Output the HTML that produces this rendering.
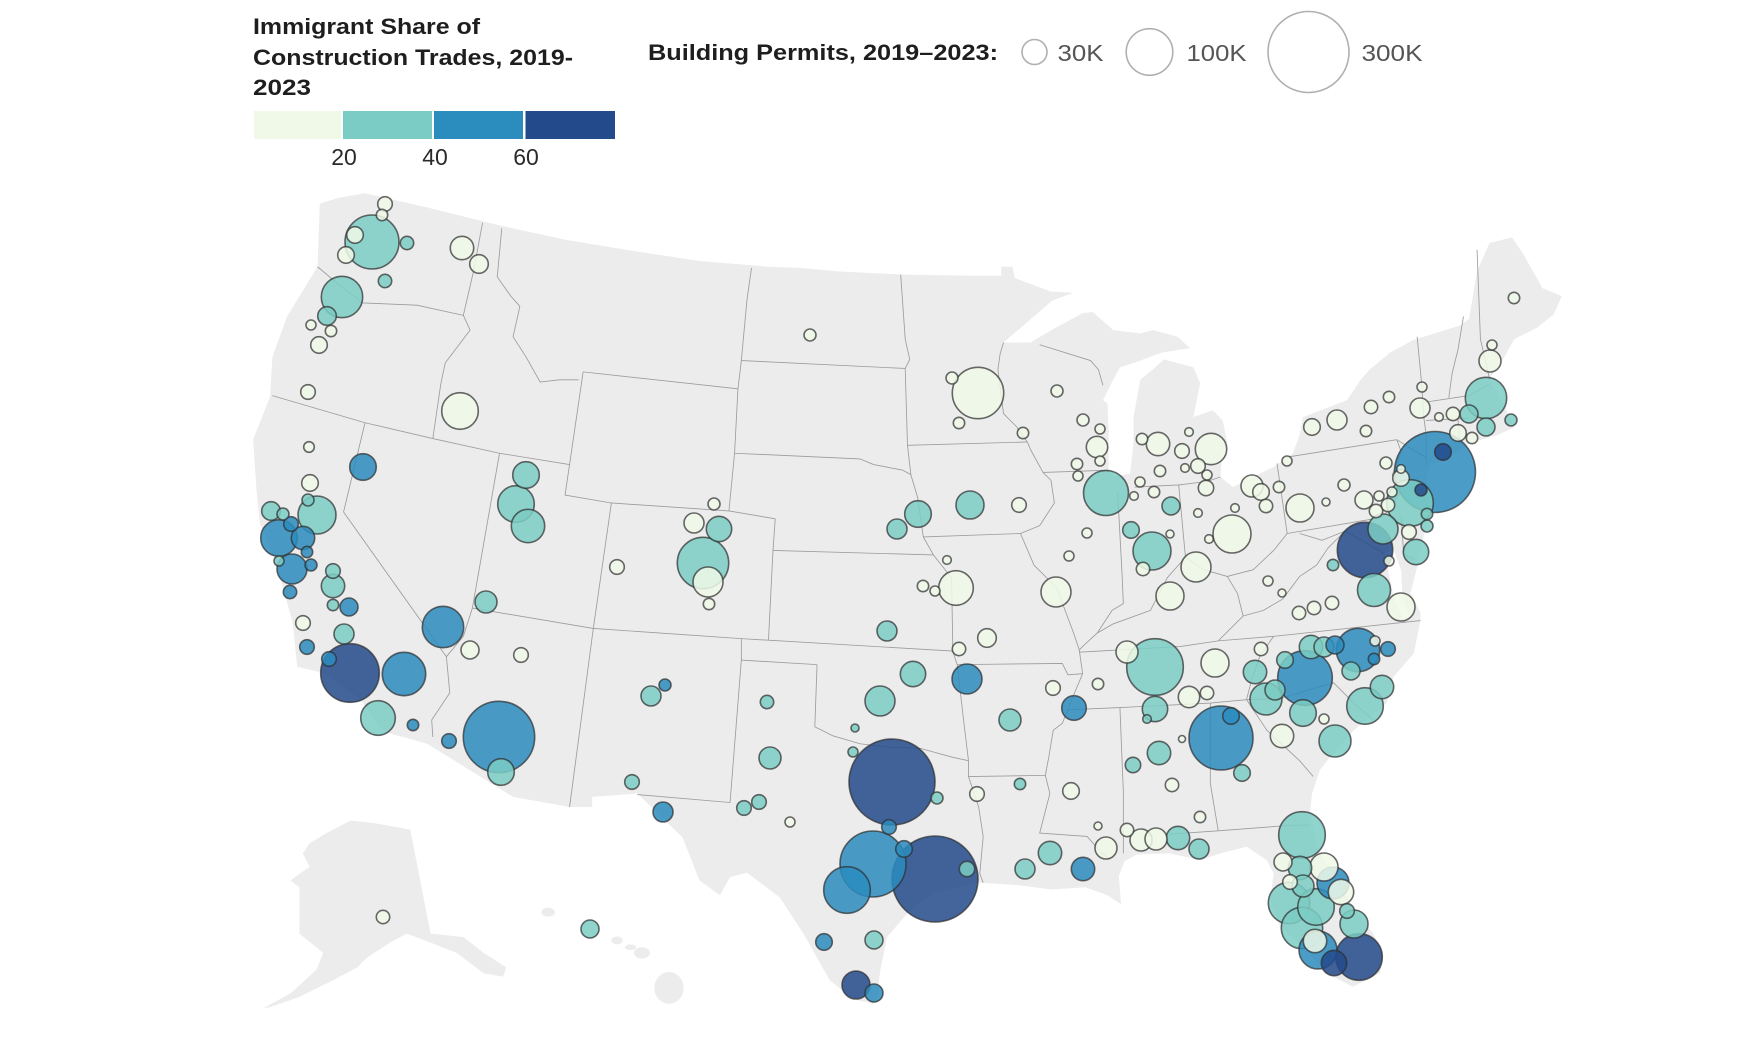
<!DOCTYPE html>
<html>
<head>
<meta charset="utf-8">
<style>
html,body{margin:0;padding:0;background:#ffffff;}
svg{display:block;}
.ttl{font-family:"Liberation Sans",Arial,sans-serif;font-weight:bold;fill:#1e1e1e;}
.lbl{font-family:"Liberation Sans",Arial,sans-serif;fill:#2a2a2a;}
.lbl2{font-family:"Liberation Sans",Arial,sans-serif;fill:#555555;}
.b{fill:none;stroke:#9c9c9c;stroke-width:0.75;stroke-linejoin:round;}
.pts circle{fill-opacity:0.85;stroke:#2f2f2f;stroke-opacity:0.72;stroke-width:1.6;}
.L{fill:#f0f9e8;}
.T{fill:#7bccc4;}
.B{fill:#2b8cbe;}
.D{fill:#234a8b;}
</style>
</head>
<body>
<svg width="1763" height="1058" viewBox="0 0 1763 1058" xmlns="http://www.w3.org/2000/svg">
<rect x="0" y="0" width="1763" height="1058" fill="#ffffff"/>

<g transform="scale(1.1301 1.1303)">
<polygon fill="#ececec" points="283,180 300,175 323,171 380,184 440,199 500,212 560,222 620,231 680,236 708,237 740,240 800,243 860,244 886,244 886,236 896,236 898,246 930,258 950,259 931,266 888,303 912,303 927,294 958,277 967,276 985,292 1009,295 1020,292 1042,298 1053,308 1028,312 1009,319 991,325 985,336 976,354 980,357 981,381 981,416 985,422 1000,419 1003,392 1003,369 1009,336 1020,327 1030,318 1056,325 1062,339 1056,369 1073,363 1082,372 1086,392 1081,404 1080,422 1091,431 1109,422 1127,413 1144,401 1150,385 1153,369 1192,354 1204,336 1212,327 1230,312 1250,301 1292,288 1300,282 1307,240 1318,215 1338,210 1348,225 1365,255 1382,262 1375,278 1360,290 1340,300 1330,318 1318,335 1333,363 1340,378 1325,385 1300,392 1290,400 1265,412 1262,425 1265,451 1257,487 1254,502 1248,525 1257,542 1257,549 1251,578 1233,599 1227,622 1198,646 1180,666 1168,681 1161,702 1159,720 1165,749 1180,773 1197,802 1215,826 1224,843 1221,861 1197,873 1174,861 1157,841 1133,820 1124,796 1127,773 1121,761 1103,749 1080,755 1062,761 1035,755 1006,756 995,762 990,775 992,800 980,792 960,785 930,787 900,783 867,781 826,790 803,808 785,829 779,858 776,882 773,888 755,884 734,867 711,826 690,794 661,772 646,776 637,792 619,779 604,741 564,702 524,705 524,714 504,714 454,705 378,658 342,648 336,643 319,619 285,595 263,590 259,551 251,522 242,493 230,463 227,434 224,389 239,351 241,316 254,280 281,236"/>
<polygon fill="#ffffff" points="1226,490 1233,486 1240,505 1241,530 1248,546 1242,548 1234,532 1229,508"/>
<polygon fill="#ececec" points="310,726 330,728 363,734 381,826 410,829 428,843 448,856 445,864 428,861 404,843 381,834 360,826 345,834 325,847 316,856 295,867 265,882 239,891 233,892 257,879 280,858 286,843 265,826 265,808 265,785 257,779 265,773 274,767 268,755 274,746 289,737"/>
<ellipse cx="485" cy="807" rx="6" ry="4" fill="#ececec"/>
<ellipse cx="546" cy="832" rx="5" ry="3.5" fill="#ececec"/>
<ellipse cx="558" cy="838" rx="5" ry="2.5" fill="#ececec"/>
<ellipse cx="568" cy="843" rx="7" ry="5" fill="#ececec"/>
<ellipse cx="592" cy="874" rx="13" ry="14" fill="#ececec"/>

<polyline class="b" points="281,236 300,252 321,268 369,270 410,279"/>
<polyline class="b" points="427,197 419,240 410,279"/>
<polyline class="b" points="410,279 416,292 394,321 390,340 383,388"/>
<polyline class="b" points="241,350 323,374 383,388"/>
<polyline class="b" points="444,202 440,245 452,262 460,271 454,298 465,315 478,338 495,336 512,336"/>
<polyline class="b" points="516,329 504,411"/>
<polyline class="b" points="383,388 442,401 504,411"/>
<polyline class="b" points="323,374 304,453 395,581 398,613 382,637 383,652"/>
<polyline class="b" points="442,401 418,538 410,563 395,581"/>
<polyline class="b" points="418,538 525,556"/>
<polyline class="b" points="504,411 500,438 541,445 525,556"/>
<polyline class="b" points="525,556 504,714"/>
<polyline class="b" points="516,329 653,344"/>
<polyline class="b" points="665,237 661,265 656,319 653,344"/>
<polyline class="b" points="653,344 650,401 645,452"/>
<polyline class="b" points="541,445 645,452 686,459"/>
<polyline class="b" points="686,459 684,487 680,566"/>
<polyline class="b" points="525,556 656,565 843,576"/>
<polyline class="b" points="656,565 656,584 646,710 564,703"/>
<polyline class="b" points="656,584 723,588"/>
<polyline class="b" points="723,588 721,643 737,651 761,658 785,661 814,662 843,670 857,673"/>
<polyline class="b" points="656,319 801,326"/>
<polyline class="b" points="650,401 761,406 773,411 799,416 806,420"/>
<polyline class="b" points="797,243 801,300 805,318 801,326 803,394"/>
<polyline class="b" points="803,394 909,391"/>
<polyline class="b" points="803,394 806,420 812,440 817,475 826,491"/>
<polyline class="b" points="684,487 826,491"/>
<polyline class="b" points="817,475 903,472"/>
<polyline class="b" points="826,491 833,500 842,511 843,566 843,576"/>
<polyline class="b" points="847,588 940,587 945,597 958,596"/>
<polyline class="b" points="843,576 847,588 853,640 857,673 857,687 925,686"/>
<polyline class="b" points="857,687 866,714 870,740 867,773 870,781"/>
<polyline class="b" points="958,596 950,615 940,640 932,646 928,670 925,686 929,702 920,737 962,740 975,755 982,760"/>
<polyline class="b" points="909,391 912,398 923,418 930,425 933,445 920,465 903,472 915,500 935,520 950,560 955,575 958,596"/>
<polyline class="b" points="888,303 885,313 883,327 888,366 900,378 909,391"/>
<polyline class="b" points="920,305 965,319 972,327 976,341"/>
<polyline class="b" points="923,418 981,416"/>
<polyline class="b" points="989,436 993,510 994,534 984,540 971,560 960,570 955,575"/>
<polyline class="b" points="1004,431 1043,429 1068,426 1080,422"/>
<polyline class="b" points="1043,429 1049,493"/>
<polyline class="b" points="971,560 985,552 1018,540 1033,511 1049,493 1065,504 1086,510 1109,504 1127,487 1139,472"/>
<polyline class="b" points="1130,410 1139,472"/>
<polyline class="b" points="1135,405 1236,389"/>
<polyline class="b" points="1139,472 1210,460 1224,457"/>
<polyline class="b" points="1236,389 1240,400 1232,420 1240,435 1224,457"/>
<polyline class="b" points="1150,472 1170,478 1190,470 1205,478 1225,490"/>
<polyline class="b" points="1190,470 1175,485 1165,500 1150,510 1135,530 1118,540 1100,545 1085,560 1078,567"/>
<polyline class="b" points="1086,510 1095,525 1100,545"/>
<polyline class="b" points="955,577 1044,572 1078,567 1127,563 1257,549"/>
<polyline class="b" points="1127,563 1115,580 1108,600 1103,619"/>
<polyline class="b" points="945,628 991,626 1071,622 1103,619"/>
<polyline class="b" points="991,626 994,700 994,755"/>
<polyline class="b" points="1071,622 1071,693 1078,735"/>
<polyline class="b" points="1035,738 1078,735 1144,730 1159,730"/>
<polyline class="b" points="1103,619 1121,646 1150,673 1162,687"/>
<polyline class="b" points="1103,619 1133,618 1180,604 1198,622 1215,637"/>
<polyline class="b" points="1254,298 1258,340 1260,370 1262,385 1262,412"/>
<polyline class="b" points="1295,280 1290,310 1285,330 1282,352"/>
<polyline class="b" points="1307,221 1310,300 1318,335"/>
<polyline class="b" points="1260,356 1300,350 1318,340"/>
<polyline class="b" points="1262,372 1300,370"/>
<polyline class="b" points="1290,370 1292,393"/>
<polyline class="b" points="1236,389 1262,405"/>
<polyline class="b" points="1240,457 1242,490 1252,495"/>
</g>

<text class="ttl" x="253" y="34" font-size="22" textLength="227" lengthAdjust="spacingAndGlyphs">Immigrant Share of</text>
<text class="ttl" x="253" y="65" font-size="22" textLength="320" lengthAdjust="spacingAndGlyphs">Construction Trades, 2019-</text>
<text class="ttl" x="253" y="95" font-size="22" textLength="58" lengthAdjust="spacingAndGlyphs">2023</text>
<rect x="254" y="111" width="87" height="28" fill="#f0f9e8"/>
<rect x="343" y="111" width="89" height="28" fill="#7bccc4"/>
<rect x="434" y="111" width="89" height="28" fill="#2b8cbe"/>
<rect x="525.5" y="111" width="89.5" height="28" fill="#234a8b"/>
<text class="lbl" x="344" y="165" font-size="23" text-anchor="middle">20</text>
<text class="lbl" x="435" y="165" font-size="23" text-anchor="middle">40</text>
<text class="lbl" x="526" y="165" font-size="23" text-anchor="middle">60</text>

<text class="ttl" x="648" y="60" font-size="22" textLength="350" lengthAdjust="spacingAndGlyphs">Building Permits, 2019–2023:</text>
<circle cx="1034.5" cy="52" r="12.5" fill="none" stroke="#b0b0b0" stroke-width="1.6"/>
<text class="lbl2" x="1057.5" y="61" font-size="23" textLength="46" lengthAdjust="spacingAndGlyphs">30K</text>
<circle cx="1149.5" cy="52" r="23.3" fill="none" stroke="#b0b0b0" stroke-width="1.6"/>
<text class="lbl2" x="1186.5" y="61" font-size="23" textLength="60" lengthAdjust="spacingAndGlyphs">100K</text>
<circle cx="1308.5" cy="52" r="40.5" fill="none" stroke="#b0b0b0" stroke-width="1.6"/>
<text class="lbl2" x="1361.5" y="61" font-size="23" textLength="61" lengthAdjust="spacingAndGlyphs">300K</text>

<g class="pts">
<circle class="D" cx="892" cy="782" r="43"/>
<circle class="D" cx="935" cy="879" r="43"/>
<circle class="B" cx="1435" cy="472" r="40.5"/>
<circle class="B" cx="499" cy="737" r="35.7"/>
<circle class="B" cx="873" cy="864" r="33"/>
<circle class="B" cx="1221" cy="738" r="32"/>
<circle class="D" cx="350" cy="673" r="29.3"/>
<circle class="T" cx="1155" cy="667" r="28.3"/>
<circle class="D" cx="1365" cy="550" r="27.7"/>
<circle class="B" cx="1305" cy="678" r="27.3"/>
<circle class="T" cx="372" cy="242" r="27"/>
<circle class="L" cx="978" cy="393" r="25.7"/>
<circle class="T" cx="703" cy="563" r="25.7"/>
<circle class="B" cx="847" cy="890" r="23.3"/>
<circle class="T" cx="1410" cy="503" r="23.3"/>
<circle class="T" cx="1302" cy="835" r="23.3"/>
<circle class="D" cx="1359" cy="957" r="23.3"/>
<circle class="T" cx="1106" cy="493" r="22.5"/>
<circle class="B" cx="404" cy="674" r="21.7"/>
<circle class="B" cx="1358" cy="650" r="21.7"/>
<circle class="T" cx="342" cy="297" r="20.7"/>
<circle class="B" cx="443" cy="627" r="20.7"/>
<circle class="T" cx="1486" cy="398" r="20.7"/>
<circle class="T" cx="1289" cy="903" r="20.7"/>
<circle class="T" cx="1302" cy="928" r="20.7"/>
<circle class="T" cx="317" cy="515" r="19"/>
<circle class="T" cx="1152" cy="551" r="19"/>
<circle class="L" cx="1232" cy="534" r="19"/>
<circle class="B" cx="1318" cy="950" r="19"/>
<circle class="L" cx="460" cy="411" r="18.3"/>
<circle class="B" cx="279" cy="538" r="18.3"/>
<circle class="T" cx="516" cy="504" r="18.3"/>
<circle class="T" cx="1365" cy="706" r="18.3"/>
<circle class="T" cx="1316" cy="907" r="18.3"/>
<circle class="T" cx="378" cy="718" r="17.3"/>
<circle class="L" cx="956" cy="588" r="17.3"/>
<circle class="T" cx="528" cy="526" r="16.7"/>
<circle class="T" cx="1374" cy="590" r="16.5"/>
<circle class="T" cx="1266" cy="699" r="16"/>
<circle class="T" cx="1335" cy="741" r="16"/>
<circle class="B" cx="1333" cy="883" r="16"/>
<circle class="L" cx="1211" cy="449" r="15.7"/>
<circle class="L" cx="1056" cy="592" r="15"/>
<circle class="B" cx="292" cy="569" r="15"/>
<circle class="L" cx="708" cy="582" r="15"/>
<circle class="B" cx="967" cy="679" r="15"/>
<circle class="T" cx="880" cy="701" r="15"/>
<circle class="L" cx="1196" cy="567" r="15"/>
<circle class="T" cx="1383" cy="529" r="15"/>
<circle class="T" cx="970" cy="505" r="14"/>
<circle class="L" cx="1170" cy="596" r="14"/>
<circle class="L" cx="1300" cy="508" r="14"/>
<circle class="L" cx="1215" cy="663" r="14"/>
<circle class="L" cx="1324" cy="867" r="14"/>
<circle class="T" cx="1354" cy="924" r="14"/>
<circle class="D" cx="856" cy="985" r="14"/>
<circle class="L" cx="1401" cy="607" r="14"/>
<circle class="T" cx="1303" cy="713" r="13.3"/>
<circle class="B" cx="363" cy="467" r="13.3"/>
<circle class="T" cx="526" cy="475" r="13.3"/>
<circle class="T" cx="501" cy="772" r="13.3"/>
<circle class="T" cx="918" cy="514" r="13.3"/>
<circle class="T" cx="913" cy="674" r="12.7"/>
<circle class="T" cx="1155" cy="709" r="12.7"/>
<circle class="L" cx="1341" cy="892" r="12.7"/>
<circle class="T" cx="719" cy="529" r="12.7"/>
<circle class="D" cx="1334" cy="963" r="12.7"/>
<circle class="T" cx="1416" cy="552" r="12.7"/>
<circle class="B" cx="1074" cy="708" r="12.3"/>
<circle class="B" cx="1083" cy="869" r="11.7"/>
<circle class="T" cx="1050" cy="853" r="11.7"/>
<circle class="T" cx="1178" cy="838" r="11.7"/>
<circle class="B" cx="303" cy="538" r="11.7"/>
<circle class="T" cx="333" cy="586" r="11.7"/>
<circle class="L" cx="462" cy="248" r="11.7"/>
<circle class="L" cx="1158" cy="444" r="11.7"/>
<circle class="T" cx="1255" cy="672" r="11.7"/>
<circle class="T" cx="1159" cy="753" r="11.7"/>
<circle class="T" cx="1311" cy="647" r="11.7"/>
<circle class="T" cx="1382" cy="687" r="11.7"/>
<circle class="L" cx="1282" cy="736" r="11.7"/>
<circle class="T" cx="1300" cy="868" r="11.7"/>
<circle class="L" cx="1315" cy="941" r="11.7"/>
<circle class="T" cx="486" cy="602" r="11"/>
<circle class="T" cx="1010" cy="720" r="11"/>
<circle class="T" cx="770" cy="758" r="11"/>
<circle class="L" cx="1106" cy="848" r="11"/>
<circle class="L" cx="1141" cy="840" r="11"/>
<circle class="L" cx="1156" cy="839" r="11"/>
<circle class="L" cx="1252" cy="486" r="11"/>
<circle class="L" cx="1490" cy="361" r="11"/>
<circle class="T" cx="1303" cy="886" r="11"/>
<circle class="L" cx="1127" cy="652" r="11"/>
<circle class="L" cx="1189" cy="697" r="10.7"/>
<circle class="L" cx="1097" cy="447" r="10.7"/>
<circle class="L" cx="694" cy="523" r="10"/>
<circle class="T" cx="887" cy="631" r="10"/>
<circle class="T" cx="651" cy="696" r="10"/>
<circle class="B" cx="663" cy="812" r="10"/>
<circle class="T" cx="344" cy="634" r="10"/>
<circle class="T" cx="897" cy="529" r="10"/>
<circle class="T" cx="1025" cy="869" r="10"/>
<circle class="T" cx="1199" cy="849" r="10"/>
<circle class="T" cx="1324" cy="647" r="10"/>
<circle class="T" cx="1275" cy="690" r="10"/>
<circle class="L" cx="1337" cy="420" r="10"/>
<circle class="L" cx="1420" cy="408" r="10"/>
<circle class="L" cx="479" cy="264" r="9.3"/>
<circle class="T" cx="327" cy="316" r="9.3"/>
<circle class="T" cx="271" cy="511" r="9.3"/>
<circle class="L" cx="987" cy="638" r="9.3"/>
<circle class="B" cx="349" cy="607" r="9"/>
<circle class="L" cx="470" cy="650" r="9"/>
<circle class="T" cx="590" cy="929" r="9"/>
<circle class="T" cx="874" cy="940" r="9"/>
<circle class="B" cx="874" cy="993" r="9"/>
<circle class="T" cx="1171" cy="506" r="9"/>
<circle class="B" cx="1335" cy="645" r="9"/>
<circle class="T" cx="1351" cy="671" r="9"/>
<circle class="L" cx="1283" cy="862" r="9"/>
<circle class="T" cx="1469" cy="414" r="9"/>
<circle class="T" cx="1486" cy="427" r="9"/>
<circle class="L" cx="1364" cy="500" r="9"/>
<circle class="L" cx="1261" cy="492" r="8.3"/>
<circle class="L" cx="355" cy="235" r="8.3"/>
<circle class="L" cx="346" cy="255" r="8.3"/>
<circle class="L" cx="319" cy="345" r="8.3"/>
<circle class="L" cx="310" cy="483" r="8.3"/>
<circle class="L" cx="1071" cy="791" r="8.3"/>
<circle class="T" cx="1131" cy="530" r="8.3"/>
<circle class="L" cx="1312" cy="427" r="8.3"/>
<circle class="B" cx="1231" cy="716" r="8.3"/>
<circle class="T" cx="1242" cy="773" r="8.3"/>
<circle class="T" cx="1285" cy="660" r="8.3"/>
<circle class="B" cx="824" cy="942" r="8.3"/>
<circle class="B" cx="904" cy="849" r="8.3"/>
<circle class="L" cx="1458" cy="433" r="8.3"/>
<circle class="D" cx="1443" cy="452" r="8.3"/>
<circle class="L" cx="1401" cy="478" r="8.3"/>
<circle class="L" cx="1206" cy="488" r="7.7"/>
<circle class="T" cx="1133" cy="765" r="7.7"/>
<circle class="T" cx="967" cy="869" r="7.7"/>
<circle class="L" cx="385" cy="204" r="7.3"/>
<circle class="L" cx="308" cy="392" r="7.3"/>
<circle class="B" cx="291" cy="524" r="7.3"/>
<circle class="L" cx="303" cy="623" r="7.3"/>
<circle class="B" cx="307" cy="647" r="7.3"/>
<circle class="B" cx="329" cy="659" r="7.3"/>
<circle class="B" cx="449" cy="741" r="7.3"/>
<circle class="L" cx="521" cy="655" r="7.3"/>
<circle class="L" cx="617" cy="567" r="7.3"/>
<circle class="T" cx="632" cy="782" r="7.3"/>
<circle class="T" cx="744" cy="808" r="7.3"/>
<circle class="T" cx="759" cy="802" r="7.3"/>
<circle class="B" cx="889" cy="827" r="7.3"/>
<circle class="L" cx="977" cy="794" r="7.3"/>
<circle class="L" cx="1053" cy="688" r="7.3"/>
<circle class="L" cx="1019" cy="505" r="7.3"/>
<circle class="L" cx="1182" cy="451" r="7.3"/>
<circle class="L" cx="1198" cy="466" r="7.3"/>
<circle class="L" cx="1290" cy="882" r="7.3"/>
<circle class="T" cx="1347" cy="911" r="7.3"/>
<circle class="B" cx="1388" cy="649" r="7.3"/>
<circle class="L" cx="1409" cy="532" r="7.3"/>
<circle class="T" cx="333" cy="571" r="7.3"/>
<circle class="T" cx="407" cy="243" r="6.7"/>
<circle class="T" cx="385" cy="281" r="6.7"/>
<circle class="T" cx="767" cy="702" r="6.7"/>
<circle class="L" cx="959" cy="649" r="6.7"/>
<circle class="L" cx="1127" cy="830" r="6.7"/>
<circle class="L" cx="1207" cy="693" r="6.7"/>
<circle class="L" cx="1172" cy="785" r="6.7"/>
<circle class="L" cx="1143" cy="569" r="6.7"/>
<circle class="L" cx="1266" cy="506" r="6.7"/>
<circle class="L" cx="1299" cy="613" r="6.7"/>
<circle class="L" cx="1314" cy="608" r="6.7"/>
<circle class="L" cx="1332" cy="603" r="6.7"/>
<circle class="L" cx="1261" cy="649" r="6.7"/>
<circle class="L" cx="1371" cy="407" r="6.7"/>
<circle class="L" cx="1453" cy="414" r="6.7"/>
<circle class="L" cx="1376" cy="511" r="6.7"/>
<circle class="L" cx="1388" cy="505" r="6.7"/>
<circle class="B" cx="290" cy="592" r="6.7"/>
<circle class="L" cx="383" cy="917" r="6.7"/>
<circle class="L" cx="714" cy="504" r="6"/>
<circle class="L" cx="952" cy="378" r="6"/>
<circle class="L" cx="810" cy="335" r="6"/>
<circle class="B" cx="311" cy="565" r="6"/>
<circle class="T" cx="283" cy="514" r="6"/>
<circle class="T" cx="308" cy="500" r="6"/>
<circle class="B" cx="665" cy="685" r="6"/>
<circle class="T" cx="937" cy="798" r="6"/>
<circle class="L" cx="1057" cy="391" r="6"/>
<circle class="L" cx="1083" cy="420" r="6"/>
<circle class="T" cx="1427" cy="526" r="6"/>
<circle class="D" cx="1421" cy="490" r="6"/>
<circle class="L" cx="1386" cy="463" r="6"/>
<circle class="L" cx="1344" cy="485" r="6"/>
<circle class="T" cx="1511" cy="420" r="6"/>
<circle class="L" cx="382" cy="215" r="5.7"/>
<circle class="L" cx="331" cy="331" r="5.7"/>
<circle class="T" cx="333" cy="605" r="5.7"/>
<circle class="B" cx="413" cy="725" r="5.7"/>
<circle class="T" cx="1020" cy="784" r="5.7"/>
<circle class="L" cx="959" cy="423" r="5.7"/>
<circle class="L" cx="1023" cy="433" r="5.7"/>
<circle class="L" cx="923" cy="586" r="5.7"/>
<circle class="L" cx="709" cy="604" r="5.7"/>
<circle class="L" cx="1098" cy="684" r="5.7"/>
<circle class="L" cx="1077" cy="464" r="5.7"/>
<circle class="L" cx="1142" cy="439" r="5.7"/>
<circle class="L" cx="1160" cy="471" r="5.7"/>
<circle class="L" cx="1154" cy="492" r="5.7"/>
<circle class="L" cx="1279" cy="487" r="5.7"/>
<circle class="L" cx="1200" cy="817" r="5.7"/>
<circle class="B" cx="1374" cy="659" r="5.7"/>
<circle class="L" cx="1366" cy="431" r="5.7"/>
<circle class="L" cx="1389" cy="397" r="5.7"/>
<circle class="L" cx="1514" cy="298" r="5.7"/>
<circle class="L" cx="1472" cy="438" r="5.7"/>
<circle class="T" cx="1427" cy="514" r="5.7"/>
<circle class="T" cx="1333" cy="565" r="5.7"/>
<circle class="B" cx="307" cy="552" r="5.7"/>
<circle class="L" cx="311" cy="325" r="5"/>
<circle class="L" cx="309" cy="447" r="5.3"/>
<circle class="T" cx="279" cy="561" r="5"/>
<circle class="L" cx="790" cy="822" r="5"/>
<circle class="T" cx="853" cy="752" r="5"/>
<circle class="L" cx="1100" cy="429" r="5"/>
<circle class="L" cx="1100" cy="461" r="5"/>
<circle class="L" cx="1078" cy="476" r="5"/>
<circle class="L" cx="1207" cy="475" r="5"/>
<circle class="L" cx="1140" cy="482" r="5"/>
<circle class="L" cx="1087" cy="533" r="5"/>
<circle class="L" cx="1069" cy="556" r="5"/>
<circle class="L" cx="1268" cy="581" r="5"/>
<circle class="L" cx="1287" cy="461" r="5"/>
<circle class="L" cx="1492" cy="345" r="5"/>
<circle class="L" cx="1422" cy="387" r="5"/>
<circle class="L" cx="1379" cy="496" r="5"/>
<circle class="L" cx="1392" cy="492" r="5"/>
<circle class="L" cx="1389" cy="561" r="5"/>
<circle class="L" cx="1375" cy="641" r="5"/>
<circle class="L" cx="1324" cy="719" r="5"/>
<circle class="L" cx="935" cy="591" r="5"/>
<circle class="L" cx="1185" cy="468" r="4.3"/>
<circle class="L" cx="1189" cy="432" r="4.3"/>
<circle class="L" cx="1134" cy="496" r="4.3"/>
<circle class="L" cx="1198" cy="513" r="4.3"/>
<circle class="L" cx="1235" cy="508" r="4.3"/>
<circle class="L" cx="1209" cy="539" r="4.3"/>
<circle class="L" cx="947" cy="560" r="4.3"/>
<circle class="T" cx="1147" cy="719" r="4.3"/>
<circle class="L" cx="1439" cy="417" r="4.3"/>
<circle class="L" cx="1401" cy="469" r="4.3"/>
<circle class="T" cx="855" cy="728" r="4"/>
<circle class="L" cx="1098" cy="826" r="4"/>
<circle class="L" cx="1326" cy="502" r="4"/>
<circle class="L" cx="1282" cy="593" r="4"/>
<circle class="L" cx="1170" cy="534" r="4"/>
<circle class="L" cx="1182" cy="739" r="3.5"/>
</g>
</svg>
</body>
</html>
